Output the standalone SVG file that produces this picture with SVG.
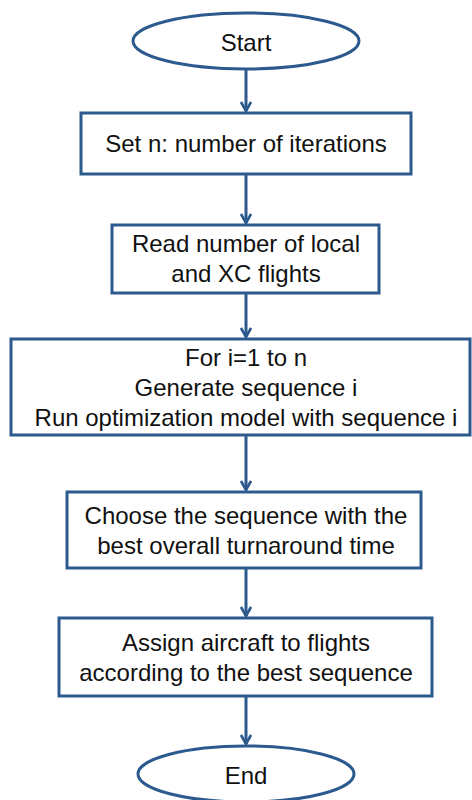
<svg xmlns="http://www.w3.org/2000/svg" width="472" height="800" viewBox="0 0 472 800">
<style>
.n{fill:#fff;stroke:#2c5a8e;stroke-width:3}
.c{stroke:#2c5a8e;stroke-width:3;fill:none}
text{font-family:"Liberation Sans",Arial,sans-serif;font-size:24px;fill:#111;text-anchor:middle;dominant-baseline:central}
</style>
<defs>
<marker id="ah" viewBox="0 0 12 12" refX="10" refY="6" markerWidth="12" markerHeight="12" markerUnits="userSpaceOnUse" orient="auto">
<path d="M1,1 L10,6 L1,11" fill="none" stroke="#2c5a8e" stroke-width="2.6"/>
</marker>
</defs>
<rect width="472" height="800" fill="#fff"/>
<g id="connectors">
<line class="c" x1="246" y1="70" x2="246" y2="111" marker-end="url(#ah)"/>
<line class="c" x1="246" y1="174" x2="246" y2="223" marker-end="url(#ah)"/>
<line class="c" x1="246" y1="293" x2="246" y2="337" marker-end="url(#ah)"/>
<line class="c" x1="246" y1="435" x2="246" y2="490" marker-end="url(#ah)"/>
<line class="c" x1="246" y1="568" x2="246" y2="616" marker-end="url(#ah)"/>
<line class="c" x1="246" y1="696" x2="246" y2="744" marker-end="url(#ah)"/>
</g>
<g id="start"><ellipse class="n" cx="246" cy="41" rx="113" ry="28"/><text x="246" y="42">Start</text></g>
<g id="setn"><rect class="n" x="81" y="113" width="330" height="61"/><text x="246" y="143">Set n: number of iterations</text></g>
<g id="read"><rect class="n" x="112" y="225" width="267" height="68"/><text x="246" y="243">Read number of local</text><text x="246" y="273">and XC flights</text></g>
<g id="loop"><rect class="n" x="11" y="339" width="459" height="96"/><text x="246" y="357">For i=1 to n</text><text x="246" y="387">Generate sequence i</text><text x="246" y="417">Run optimization model with sequence i</text></g>
<g id="choose"><rect class="n" x="67" y="492" width="354" height="76"/><text x="246" y="515">Choose the sequence with the</text><text x="246" y="545">best overall turnaround time</text></g>
<g id="assign"><rect class="n" x="59" y="618" width="373" height="78"/><text x="246" y="642">Assign aircraft to flights</text><text x="246" y="672">according to the best sequence</text></g>
<g id="end"><ellipse class="n" cx="246" cy="774" rx="108" ry="28"/><text x="246" y="775">End</text></g>
</svg>
